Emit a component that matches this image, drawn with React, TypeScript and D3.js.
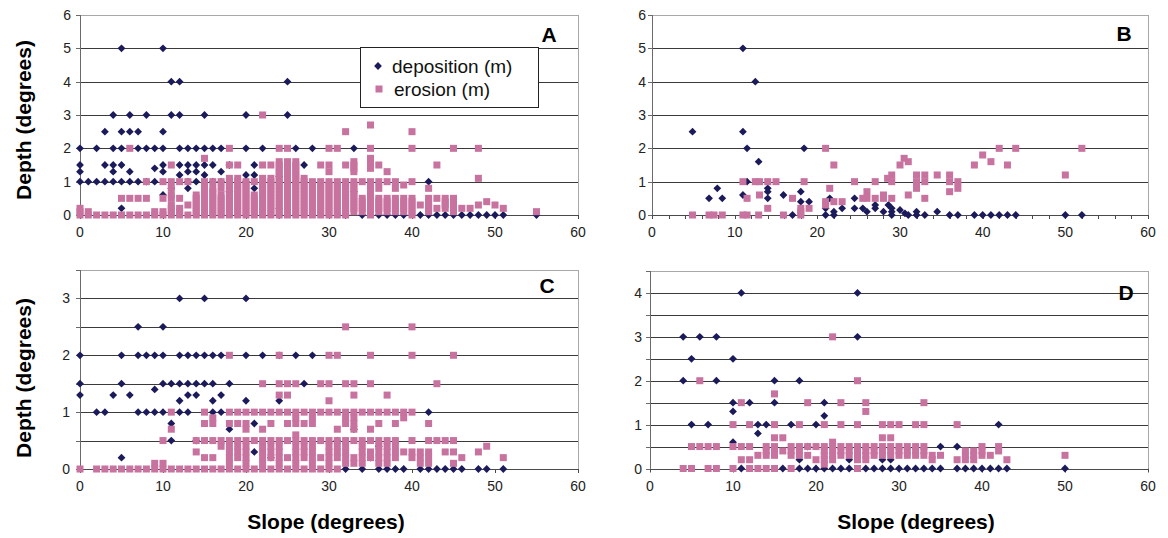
import React from 'react';
import * as d3 from 'd3';

// ---------- DATA (slope in degrees, depth) ----------
const xTickLabels = [0, 10, 20, 30, 40, 50, 60];

const depositionA: [number, number][] = [
  [0,2],[0,1.5],[0,1.3],[0,1],[1,1],[2,2],[2,1],[3,2.5],[3,1.5],[3,1],
  [4,3],[4,2],[4,1.5],[4,1.3],[4,1],[5,5],[5,2.5],[5,2],[5,1.5],[5,1],[5,0.2],
  [6,3],[6,2.5],[6,1.3],[6,1],[7,2.5],[7,2],[7,1],[8,3],[8,2],[8,1],
  [9,2],[9,1.4],[9,1],[10,5],[10,2.5],[10,2],[10,1.5],[10,1.3],[10,0.6],
  [11,4],[11,3],[11,0.8],[12,4],[12,3],[12,2],[12,1.5],[12,1.2],
  [13,2],[13,1.5],[13,1.3],[13,1],[13,0.8],[14,2],[14,1.5],[14,1.3],[14,1],
  [15,3],[15,2],[15,1.5],[15,1.2],[16,2],[16,1.5],[16,1],[17,2],[17,1.3],[17,1],
  [18,1.5],[18,0.7],[20,3],[20,2],[20,1.2],[20,1],[21,1.5],[21,1.2],[21,0.8],
  [22,2],[24,1.15],[24,0.2],[24,0],[25,4],[25,3],[26,2],[27,1.5],[28,2],
  [32,0],[33,2],[33,0.7],[34,0],[36,0],[37,0],[38,0],[39,0],[41,0],[42,1],[42,0],
  [43,0],[44,0],[45,0],[46,0],[47,0],[48,0],[49,0],[50,0],[51,0],[55,0]
];

const erosionA: [number, number[]][] = [
  [0,[0,.1,.2]],[1,[0,.1]],[2,[0]],[3,[0]],[4,[0]],
  [5,[0,.5]],[6,[0,.5,2]],[7,[0,.5]],[8,[0,.5,1]],[9,[0,.1]],
  [10,[0,.1,.5,1]],
  [11,[0,.1,.2,.3,.5,.6,.8,1,1.5]],
  [12,[0,.1,.2,.5,1]],
  [13,[0,.3,1]],
  [14,[0,.1,.2,.3,.4,.5,.6]],
  [15,[0,.1,.2,.3,.4,.5,.6,.7,.8,.9,1,1.7]],
  [16,[0,.1,.2,.3,.4,.5,.6,.7,.8,1]],
  [17,[0,.1,.2,.3,.4,.5,.6,.8,1]],
  [18,[0,.1,.2,.3,.4,.5,.6,.7,.8,.9,1,1.1,1.5,2]],
  [19,[0,.1,.2,.3,.4,.5,.6,.7,.8,.9,1,1.1,1.5]],
  [20,[0,.1,.2,.3,.4,.5,.6,.7,.8,.9,1]],
  [21,[0,.1,.2,.3,.4,.5,.6,1]],
  [22,[0,.1,.2,.3,.4,.5,.6,.7,.8,.9,1,1.1,1.5,3]],
  [23,[0,.1,.2,.3,.4,.5,.6,.7,.8,.9,1,1.1,1.5]],
  [24,[0,.1,.2,.3,.4,.5,.6,.7,.8,.9,1,1.1,1.2,1.3,1.4,1.5,1.6,2]],
  [25,[0,.1,.2,.3,.4,.5,.6,.7,.8,.9,1,1.1,1.2,1.3,1.4,1.5,1.6,2]],
  [26,[0,.1,.2,.3,.4,.5,.6,.7,.8,.9,1,1.1,1.2,1.3,1.4,1.5,1.6]],
  [27,[0,.1,.2,.3,.4,.5,.6,.7,.8,.9,1,1.1]],
  [28,[0,.1,.2,.3,.4,.5,.6,.7,.8,.9,1]],
  [29,[0,.1,.2,.3,.4,.5,.6,.7,.8,.9,1,1.5]],
  [30,[0,.1,.2,.3,.4,.5,.6,.7,.8,.9,1,1.3,1.5,2]],
  [31,[0,.1,.2,.3,.4,.5,.6,.7,.8,.9,1,2]],
  [32,[0,.1,.2,.3,.4,.5,.6,.7,.8,.9,1,1.5,2.5]],
  [33,[.1,.2,.3,.4,.5,.6,.7,.8,.9,1,1.3,1.4,1.5,1.6]],
  [34,[.1,.2,.3,.4,.5,1]],
  [35,[0,.1,.2,.3,.4,.5,.6,.7,.8,1,1.4,1.5,1.6,1.7,2,2.7]],
  [36,[.1,.2,.3,.4,.5,.8,1,1.5]],
  [37,[.1,.2,.3,.4,.5,1,1.3]],
  [38,[.1,.2,.3,.4,.5,.8,1]],
  [39,[.1,.2,.3,.4,.5,.9]],
  [40,[0,.1,.2,.3,.4,.5,1,2,2.5]],
  [41,[.3]],
  [42,[.1,.2,.3,.4,.5,.8]],
  [43,[.2,.5,1.5]],
  [44,[.2,.3,.4,.5]],
  [45,[.1,.2,.3,.4,.5,2]],
  [46,[.2]],[47,[.2]],[48,[.3,1.1,2]],[49,[.4]],[50,[.3]],[51,[.2]],[55,[.1]]
];

const depositionB: [number, number][] = [
  [4.9,2.5],[6.9,0.5],[7.9,0.8],[8.5,0.5],[11,5],[11,2.5],[11,0.6],[11.5,2],[11.5,1],
  [12.5,4],[12.9,1.6],[14,0.8],[14,0.7],[14,0.5],[15.9,0.6],[17,0],[18,0.7],[18,0.4],
  [18.4,2],[19,0.4],[21,0.2],[21,0],[21.5,0.5],[22,0.1],[22,0],[23,0.2],[24.5,0.5],
  [24.5,0.2],[25.5,0.2],[26,0.1],[27,0.3],[27,0.2],[28,0.1],[28.6,0.3],[29,0.2],
  [29,0.1],[29,0],[30,0.15],[30.6,0.05],[31,0],[32,0.1],[32,0],[33,0],[34.5,0.1],
  [36,0],[37,0],[39,0],[40,0],[41,0],[42,0],[43,0],[44,0],[50,0],[52,0]
];

const erosionB: [number, number][] = [
  [4.9,0],[6.9,0],[7.5,0],[8.5,0],[11,1],[11,0],[11.5,0.5],[11.5,0],[12.5,1],[13,1],
  [13,0.6],[12.9,0],[14,1],[14,0.2],[15,1],[15.9,0],[17,0.5],[18,0.2],[18,0.1],[18,0],
  [18.4,1],[19,0.2],[21,2],[21,0.4],[21,0.3],[21.5,0.8],[22,1.5],[22,0.4],[23,0.4],
  [24.5,1],[25.5,0.5],[26,0.7],[26,0.5],[27,1],[27,0.5],[28,0.6],[28,0.5],[28.5,1.1],
  [29,1.2],[29,1],[29,0.5],[30,1.5],[30.5,1.7],[31,1.6],[31,0.6],[32,1.2],[32,1],
  [32,0.8],[33,1.2],[33,1],[33,0.5],[34.5,1.2],[36,1.2],[36,1],[36,0.7],[37,1],
  [37,0.8],[39,1.5],[40,1.8],[41,1.6],[42,2],[43,1.5],[44,2],[50,1.2],[52,2]
];

const depositionC: [number, number][] = [
  [0,2],[0,1.5],[0,1.3],[2,1],[3,1],[4,1.3],[5,2],[5,1.5],[5,0.2],[6,1.3],
  [7,2.5],[7,2],[7,1],[8,2],[8,1],[9,2],[9,1.4],[9,1],[10,2.5],[10,2],[10,1.5],[10,1],
  [11,1.5],[11,0.8],[11,0.5],[12,3],[12,2],[12,1.5],[12,1.2],[12,1],
  [13,2],[13,1.5],[13,1.3],[13,1],[14,2],[14,1.5],[14,1.3],[14,0.5],
  [15,3],[15,2],[15,1.5],[16,2],[16,1.5],[16,1.2],[16,1],[17,2],[17,1.3],[17,1],
  [18,1.5],[18,0.7],[20,3],[20,2],[20,1.2],[21,0.8],[21,0.3],[22,2],[23,0.2],
  [24,2],[24,1.2],[26,2],[27,1.5],[28,2],[31,0.5],[32,0],[33,0.7],[34,0],[35,0.2],
  [36,0.4],[36,0],[37,0],[38,0],[39,0],[41,0],[42,1],[42,0],[43,0],[44,0],[45,0],
  [46,0],[48,0],[49,0],[51,0]
];

const erosionC: [number, number[]][] = [
  [0,[0]],[2,[0]],[3,[0]],[4,[0]],[5,[0]],[6,[0]],[7,[0]],[8,[0]],
  [9,[0,.1]],[10,[0,.1,.5]],[11,[0,.7,1]],[12,[0]],[13,[0]],
  [14,[0,.3,.5]],[15,[0,.2,.5,.8,1]],[16,[0,.2,.5,.8,.9]],[17,[0,.4,.5]],
  [18,[0,.1,.2,.3,.4,.5,.8,1,2]],
  [19,[0,.2,.3,.4,.5,.8,1]],
  [20,[0,.1,.2,.3,.4,.5,.7,.8,1]],
  [21,[0,.5,1]],
  [22,[0,.1,.2,.3,.4,.5,.7,1,1.5]],
  [23,[0,.2,.3,.4,.5,.8,1]],
  [24,[0,.1,.2,.3,.4,.5,1,1.3,1.5,2]],
  [25,[0,.2,.5,.8,1,1.3,1.5]],
  [26,[0,.1,.2,.3,.4,.5,.6,.8,.9,1,1.5]],
  [27,[0,.2,.3,.4,.5,.8,1]],
  [28,[0,.1,.2,.3,.4,.5,.8,.9,1]],
  [29,[0,.2,.5,1,1.5]],
  [30,[0,.1,.2,.3,.4,.5,1,1.2,1.5,2]],
  [31,[0,.2,.3,.4,.5,.7,1,2]],
  [32,[.1,.2,.3,.4,.5,.8,.9,1,1.5,2.5]],
  [33,[.1,.2,.5,.7,.8,.9,1,1.3,1.5]],
  [34,[.1,.2,.3,.4,.5,1]],
  [35,[.2,.3,.5,.7,1,1.5,2]],
  [36,[.1,.2,.3,.4,.5,.8,1]],
  [37,[.1,.2,.3,.4,.5,1,1.3]],
  [38,[.2,.3,.4,.5,.8,1]],
  [39,[.3,.9,1]],
  [40,[.2,.3,.5,1,2,2.5]],
  [41,[.1,.2,.3]],
  [42,[.1,.2,.3,.5,.8]],
  [43,[.5,1.5]],
  [44,[.3,.5]],
  [45,[.1,.3,.5,2]],
  [46,[.2]],[48,[.3]],[49,[.4]],[51,[.2]]
];

const depositionD: [number, number][] = [
  [4,3],[4,2],[5,2.5],[5,1],[6,3],[7,1],[8,3],[8,2],[10,2.5],[10,1.5],[10,1.3],[10,0.6],
  [11,4],[11,0],[12,1.5],[13,1],[13,0.8],[14,1],[15,2],[15,1.5],[16,0],[17,1],[18,2],
  [18,0.2],[18,0],[19,0.5],[19,0],[20,1],[20,0],[21,1.5],[21,1.2],[21,0],[22,0],[23,0],
  [24,0.2],[24,0],[25,4],[25,3],[26,0],[27,0],[28,0.2],[28,0],[29,0.2],[29,0],[30,0],
  [31,0],[32,0],[33,0],[34,0],[35,0.5],[35,0],[37,0.5],[37,0],[38,0],[39,0],[40,0],
  [41,0],[42,1],[42,0],[43,0],[50,0]
];

const erosionD: [number, number[]][] = [
  [4,[0]],[5,[0,.5]],[6,[.5,2]],[7,[0,.5]],[8,[0,.5]],[10,[0,.5,1]],[11,[.2,.5,1.5]],
  [12,[0,.2,.5,1]],[13,[0,.3]],[14,[0,.3,.4,.5]],[15,[0,.3,.4,.5,.7,1,1.7]],[16,[.4,.7]],
  [17,[0,.3,.4,.5]],[18,[.3,.4,.5,1]],[19,[.3,.5,1.5]],[20,[.2,.5]],
  [21,[.1,.2,.3,.4,.5,1]],[22,[.2,.3,.4,.5,.6,3]],[23,[.3,.4,.5,1,1.5]],[24,[.3,.4,.5]],
  [25,[0,.2,.3,.4,.5,1,2]],[26,[.2,.3,.4,.5,1.3,1.5]],[27,[.3,.4,.5]],
  [28,[.3,.4,.5,.7,1]],[29,[.3,.4,.5,.7,1]],[30,[.3,.4,.5,1]],[31,[.3,.4,.5]],
  [32,[.3,.4,.5,1]],[33,[.3,.4,.5,1,1.5]],[34,[.2,.3]],[35,[.3]],[37,[.2,1]],
  [38,[.2,.3,.4]],[39,[.2,.3,.4]],[40,[.3,.4,.5]],[41,[.3]],[42,[.4,.5]],[43,[.2]],[50,[.3]]
];

// ---------- STYLE ----------
const NAVY = '#1b1b5c';
const PINK = '#c8739f';
const GRID = '#3a3a3a';
const BORDER = '#a8a8a8';
const FONT = '"Liberation Sans", Arial, sans-serif';

type Pt = [number, number];

const flatten = (cols: [number, number[]][]): Pt[] =>
  cols.flatMap(([s, ds]) => ds.map((d) => [s, d] as Pt));

interface PanelCfg {
  left: number; right: number; top: number; bottom: number;
  yMax: number; gridStep: number; xTickStep: number;
  label: string; labelX: number; labelY: number; yLabelGap: number;
  dep: Pt[]; ero: Pt[];
}

function Panel({ c }: { c: PanelCfg }) {
  const x = d3.scaleLinear().domain([0, 60]).range([c.left, c.right]);
  const y = d3.scaleLinear().domain([0, c.yMax]).range([c.bottom, c.top]);
  const gridVals = d3.range(c.gridStep, c.yMax - 1e-6, c.gridStep);
  const yTickVals = d3.range(0, c.yMax + 1e-6, c.gridStep);
  const yLabels = d3.range(0, Math.floor(c.yMax) + 1);
  const xTicks = d3.range(0, 60.001, c.xTickStep);
  const r = 3.9;
  const s = 7;
  const crisp = (v: number) => Math.round(v) + 0.5;
  return (
    <g>
      {gridVals.map((v) => (
        <line key={'g' + v} x1={c.left} x2={c.right} y1={crisp(y(v))} y2={crisp(y(v))} stroke={GRID} strokeWidth={1} />
      ))}
      <line x1={c.left} x2={c.right} y1={crisp(y(c.yMax))} y2={crisp(y(c.yMax))} stroke={BORDER} />
      <line x1={crisp(c.right)} x2={crisp(c.right)} y1={y(c.yMax)} y2={y(0)} stroke={BORDER} />
      <line x1={crisp(c.left)} x2={crisp(c.left)} y1={y(c.yMax)} y2={y(0)} stroke="#6a6a6a" />
      <line x1={c.left} x2={c.right} y1={crisp(y(0))} y2={crisp(y(0))} stroke="#4a4a4a" />
      {yTickVals.map((v) => (
        <line key={'yt' + v} x1={c.left - 4} x2={c.left} y1={crisp(y(v))} y2={crisp(y(v))} stroke="#6a6a6a" />
      ))}
      {xTicks.map((v) => (
        <line key={'xt' + v} x1={crisp(x(v))} x2={crisp(x(v))} y1={y(0)} y2={y(0) + 4} stroke="#4a4a4a" />
      ))}
      {yLabels.map((v) => (
        <text key={'yl' + v} x={c.left - c.yLabelGap} y={y(v) + 5} textAnchor="end" fontSize={14} fontFamily={FONT} fill="#222">{v}</text>
      ))}
      {xTickLabels.map((v) => (
        <text key={'xl' + v} x={x(v)} y={y(0) + 22} textAnchor="middle" fontSize={14} fontFamily={FONT} fill="#222">{v}</text>
      ))}
      {c.dep.map(([sx, d], i) => (
        <path key={'d' + i} transform={`translate(${x(sx)},${y(d)})`} d={`M0,${-r}L${r},0L0,${r}L${-r},0Z`} fill={NAVY} />
      ))}
      {c.ero.map(([sx, d], i) => (
        <rect key={'e' + i} x={x(sx) - s / 2} y={y(d) - s / 2} width={s} height={s} fill={PINK} />
      ))}
      <text x={c.labelX} y={c.labelY} textAnchor="middle" fontSize={21} fontWeight="bold" fontFamily={FONT} fill="#000">{c.label}</text>
    </g>
  );
}

const panels: PanelCfg[] = [
  { left: 80, right: 578, top: 15, bottom: 215, yMax: 6, gridStep: 1, xTickStep: 10, label: 'A', labelX: 549, labelY: 42, yLabelGap: 9, dep: depositionA, ero: flatten(erosionA) },
  { left: 652, right: 1148, top: 15, bottom: 215, yMax: 6, gridStep: 1, xTickStep: 2, label: 'B', labelX: 1124, labelY: 41, yLabelGap: 6, dep: depositionB, ero: erosionB },
  { left: 80, right: 578, top: 270, bottom: 469, yMax: 3.5, gridStep: 0.5, xTickStep: 10, label: 'C', labelX: 547, labelY: 293, yLabelGap: 10, dep: depositionC, ero: flatten(erosionC) },
  { left: 650, right: 1148, top: 271, bottom: 468.5, yMax: 4.5, gridStep: 0.5, xTickStep: 10, label: 'D', labelX: 1126, labelY: 300, yLabelGap: 8, dep: depositionD, ero: flatten(erosionD) },
];

export default function App() {
  const r = 3.9;
  return (
    <svg width={1168} height={538} style={{ position: 'absolute', left: 0, top: 0, background: '#fff' }}>
      <rect x={0} y={0} width={1168} height={538} fill="#fff" />
      {panels.map((p) => <Panel key={p.label} c={p} />)}
      {/* Legend in panel A */}
      <g>
        <rect x={360.5} y={47.5} width={178} height={60} fill="#fff" stroke="#222" strokeWidth={1} />
        <path transform="translate(378,66)" d={`M0,${-r}L${r},0L0,${r}L${-r},0Z`} fill={NAVY} />
        <text x={392} y={72.5} fontSize={19} fontFamily={FONT} fill="#111">deposition (m)</text>
        <rect x={375.5} y={85.5} width={7} height={7} fill={PINK} />
        <text x={394} y={96} fontSize={19} fontFamily={FONT} fill="#111">erosion (m)</text>
      </g>
      {/* Axis titles */}
      <text transform="translate(31,120) rotate(-90)" textAnchor="middle" fontSize={21} fontWeight="bold" fontFamily={FONT}>Depth (degrees)</text>
      <text transform="translate(31,378) rotate(-90)" textAnchor="middle" fontSize={21} fontWeight="bold" fontFamily={FONT}>Depth (degrees)</text>
      <text x={326} y={529} textAnchor="middle" fontSize={21} fontWeight="bold" fontFamily={FONT}>Slope (degrees)</text>
      <text x={916} y={529} textAnchor="middle" fontSize={21} fontWeight="bold" fontFamily={FONT}>Slope (degrees)</text>
    </svg>
  );
}
